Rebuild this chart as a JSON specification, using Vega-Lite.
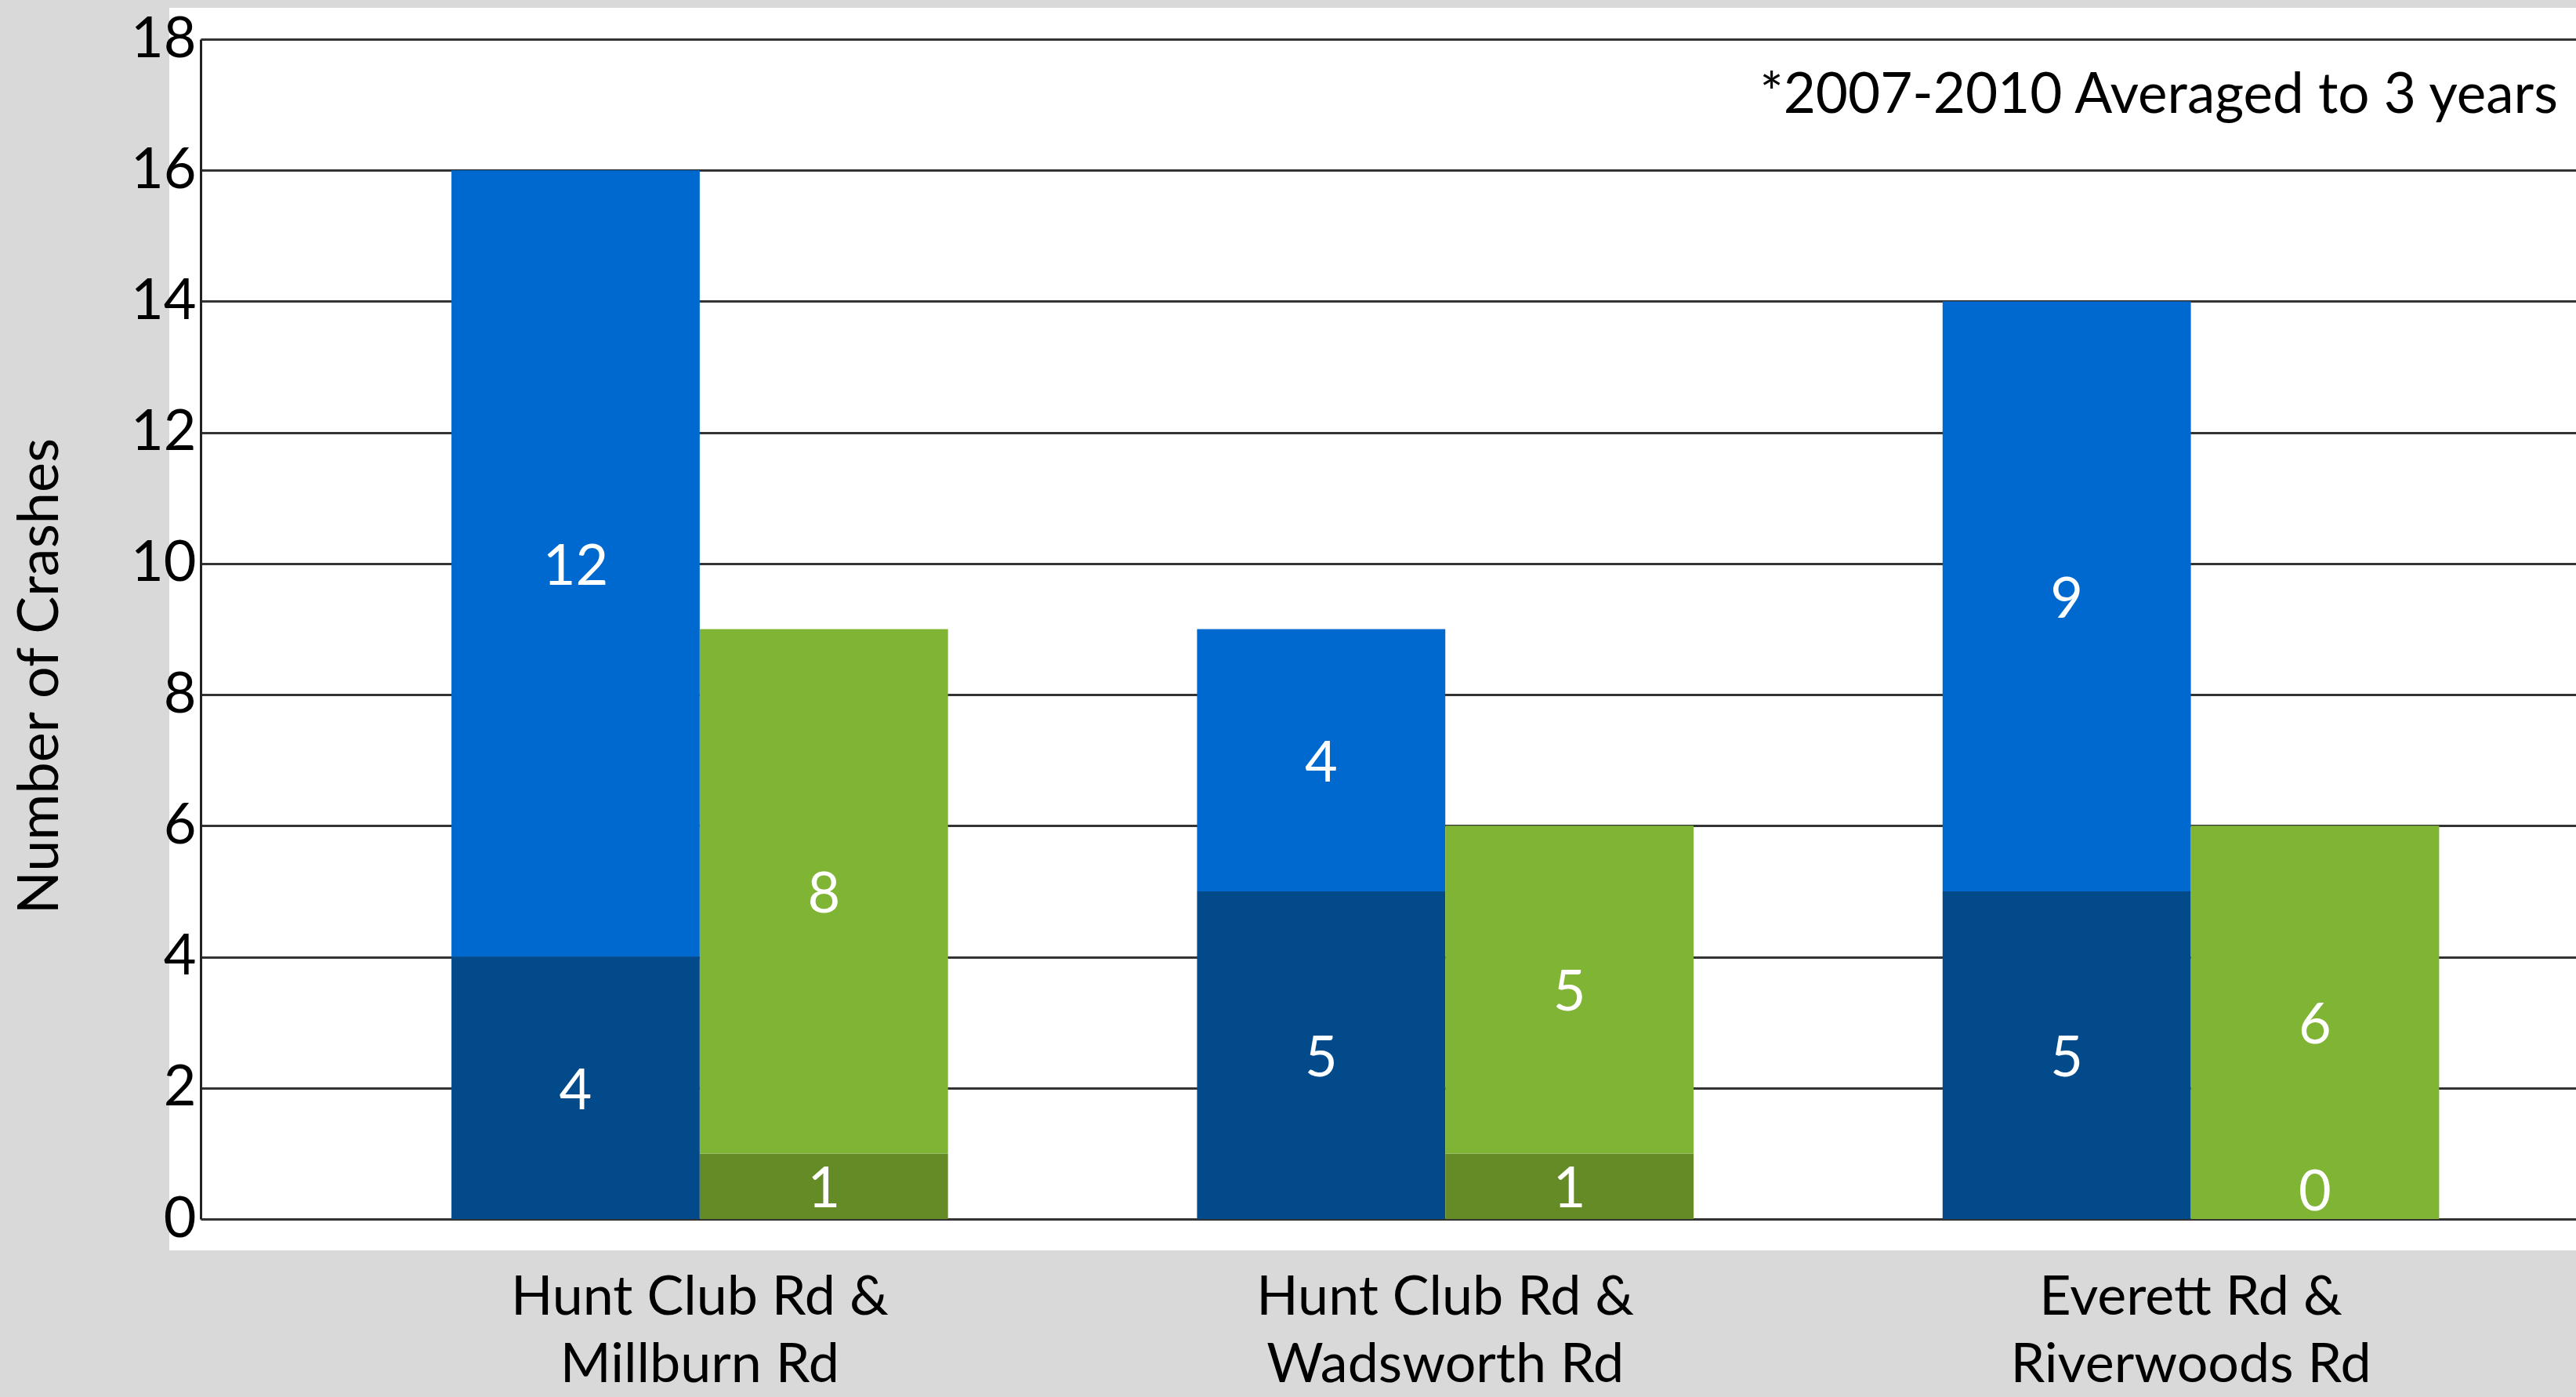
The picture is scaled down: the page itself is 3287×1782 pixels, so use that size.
{
  "$schema": "https://vega.github.io/schema/vega-lite/v6.json",
  "width": 3031,
  "height": 1505,
  "autosize": {"type": "none"},
  "padding": {"left": 256, "top": 50, "right": 0, "bottom": 227},
  "background": "#d9d9d9",
  "config": {
    "font": "Lato",
    "view": {"fill": "white", "stroke": "white", "strokeWidth": 80}
  },
  "title": {
    "text": "*2007-2010 Averaged to 3 years",
    "anchor": "end",
    "frame": "group",
    "fontSize": 71,
    "fontWeight": "normal",
    "color": "black",
    "baseline": "middle",
    "offset": -180,
    "dx": -23
  },
  "data": {
    "values": [
      {"intersection": "Hunt Club Rd & Millburn Rd", "period": "2007-2010*", "severity": "Injury", "series": "2007-2010* Injury", "order": 1, "count": 4},
      {"intersection": "Hunt Club Rd & Millburn Rd", "period": "2007-2010*", "severity": "Property Damage", "series": "2007-2010* Property Damage", "order": 2, "count": 12},
      {"intersection": "Hunt Club Rd & Millburn Rd", "period": "2011-2013", "severity": "Injury", "series": "2011-2013 Injury", "order": 1, "count": 1},
      {"intersection": "Hunt Club Rd & Millburn Rd", "period": "2011-2013", "severity": "Property Damage", "series": "2011-2013 Property Damage", "order": 2, "count": 8},
      {"intersection": "Hunt Club Rd & Wadsworth Rd", "period": "2007-2010*", "severity": "Injury", "series": "2007-2010* Injury", "order": 1, "count": 5},
      {"intersection": "Hunt Club Rd & Wadsworth Rd", "period": "2007-2010*", "severity": "Property Damage", "series": "2007-2010* Property Damage", "order": 2, "count": 4},
      {"intersection": "Hunt Club Rd & Wadsworth Rd", "period": "2011-2013", "severity": "Injury", "series": "2011-2013 Injury", "order": 1, "count": 1},
      {"intersection": "Hunt Club Rd & Wadsworth Rd", "period": "2011-2013", "severity": "Property Damage", "series": "2011-2013 Property Damage", "order": 2, "count": 5},
      {"intersection": "Everett Rd & Riverwoods Rd", "period": "2007-2010*", "severity": "Injury", "series": "2007-2010* Injury", "order": 1, "count": 5},
      {"intersection": "Everett Rd & Riverwoods Rd", "period": "2007-2010*", "severity": "Property Damage", "series": "2007-2010* Property Damage", "order": 2, "count": 9},
      {"intersection": "Everett Rd & Riverwoods Rd", "period": "2011-2013", "severity": "Injury", "series": "2011-2013 Injury", "order": 1, "count": 0},
      {"intersection": "Everett Rd & Riverwoods Rd", "period": "2011-2013", "severity": "Property Damage", "series": "2011-2013 Property Damage", "order": 2, "count": 6}
    ]
  },
  "transform": [
    {"stack": "count", "groupby": ["intersection", "period"], "sort": [{"field": "order", "order": "ascending"}], "as": ["y0", "y1"]},
    {"calculate": "max((datum.y0 + datum.y1) / 2, 0.45)", "as": "mid"}
  ],
  "encoding": {
    "x": {
      "field": "intersection",
      "type": "nominal",
      "sort": ["Hunt Club Rd & Millburn Rd", "Hunt Club Rd & Wadsworth Rd", "Everett Rd & Riverwoods Rd"],
      "scale": {"paddingInner": 0.334, "paddingOuter": 0.26, "align": 0.647},
      "axis": {
        "title": null,
        "labelAngle": 0,
        "labelExpr": "[split(datum.label, ' & ')[0] + ' &', split(datum.label, ' & ')[1]]",
        "labelLimit": 0,
        "labelFontSize": 70,
        "labelLineHeight": 86,
        "labelBaseline": "top",
        "labelPadding": 66,
        "labelColor": "black",
        "domain": false,
        "ticks": false,
        "grid": false
      }
    },
    "xOffset": {"field": "period", "type": "nominal", "scale": {"paddingInner": 0, "paddingOuter": 0}}
  },
  "layer": [
    {
      "mark": {"type": "bar"},
      "encoding": {
        "y": {
          "field": "y0",
          "type": "quantitative",
          "scale": {"domain": [0, 18], "nice": false},
          "axis": {
            "title": "Number of Crashes",
            "values": [0, 2, 4, 6, 8, 10, 12, 14, 16, 18],
            "format": "d",
            "grid": true,
            "gridColor": "#333333",
            "gridWidth": 3,
            "domainColor": "#222222",
            "domainWidth": 3,
            "ticks": false,
            "labelFontSize": 72,
            "labelPadding": 6,
            "labelColor": "black",
            "labelBaseline": "middle",
            "titleFontSize": 72,
            "titleFontWeight": "normal",
            "titleColor": "black",
            "titleX": -205,
            "titleY": 812,
            "titleBaseline": "middle"
          }
        },
        "y2": {"field": "y1"},
        "color": {
          "field": "series",
          "type": "nominal",
          "scale": {
            "domain": ["2007-2010* Injury", "2007-2010* Property Damage", "2011-2013 Injury", "2011-2013 Property Damage"],
            "range": ["#034a8a", "#0069cf", "#658b27", "#80b434"]
          },
          "legend": null
        }
      }
    },
    {
      "mark": {"type": "text", "color": "white", "fontSize": 72, "baseline": "middle", "dy": 5},
      "encoding": {
        "y": {"field": "mid", "type": "quantitative"},
        "text": {"field": "count", "type": "quantitative"}
      }
    }
  ]
}
